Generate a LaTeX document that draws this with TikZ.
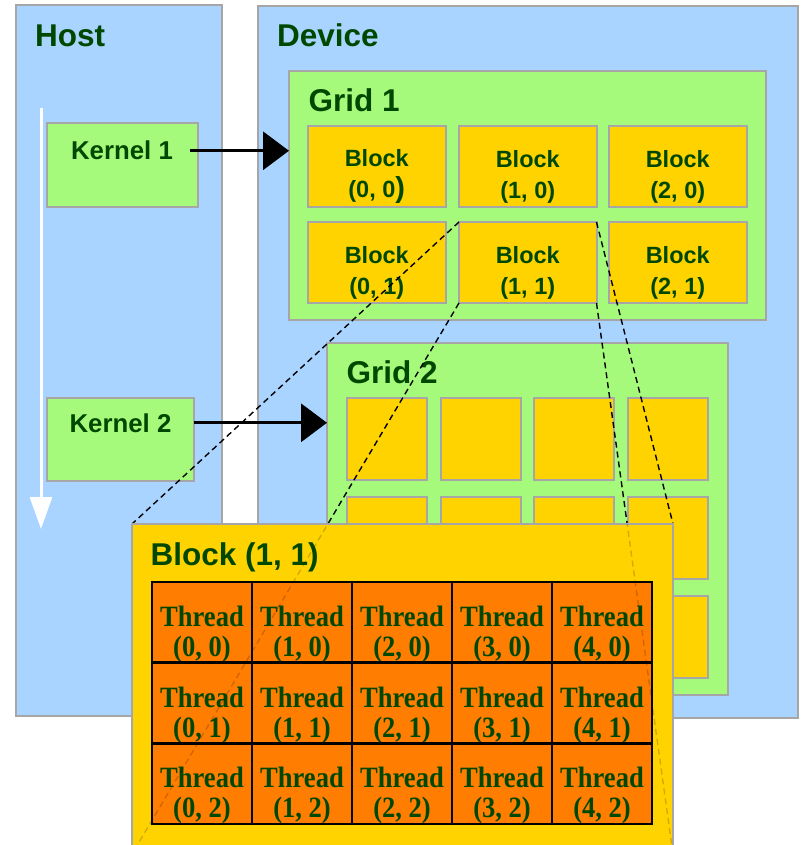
\documentclass[tikz,border=0pt]{standalone}
\usepackage{fontspec}
\setmainfont{Liberation Sans}
\newfontfamily\threadfont{Liberation Serif}[FakeStretch=0.9]
\usetikzlibrary{arrows.meta}

\definecolor{hostblue}{HTML}{A8D4FF}
\definecolor{gridgreen}{HTML}{A6FA7B}
\definecolor{blockyellow}{HTML}{FFD300}
\definecolor{threadorange}{HTML}{FF7D00}
\definecolor{labelgreen}{HTML}{004800}
\definecolor{edgegray}{HTML}{A6A6A6}

\begin{document}
\begin{tikzpicture}[x=1pt,y=-1pt,
    panel/.style={draw=edgegray,line width=2pt,fill=#1,inner sep=0pt,outer sep=0pt,anchor=north west},
    cell/.style={draw=black,line width=2.5pt,fill=threadorange,inner sep=0pt,outer sep=0pt,
      anchor=north west,minimum width=100pt,minimum height=80.7pt},
    heading/.style={font=\bfseries\fontsize{31.5}{36}\selectfont,text=labelgreen,inner sep=0pt,anchor=base west},
    kernlbl/.style={font=\bfseries\fontsize{25.8}{30}\selectfont,text=labelgreen,inner sep=0pt,anchor=base},
    blocklbl/.style={font=\bfseries\fontsize{23.5}{31}\selectfont,text=labelgreen,align=center,inner sep=0pt},
    threadlbl/.style={font=\threadfont\bfseries\fontsize{29.5}{30}\selectfont,text=labelgreen,align=center,inner sep=0pt},
    kernelarrow/.style={line width=3.3pt,-{Triangle[length=26pt,width=38pt]}},
    zoomline/.style={dash pattern=on 6pt off 4pt,line width=1.4pt}]
  \useasboundingbox (0,0) rectangle (802,845);
  \clip (0,0) rectangle (802,845);

  % Host side
  \node[panel=hostblue,minimum width=206pt,minimum height=711pt] (host) at (16,5) {};
  \node[heading] (hosttxt) at (35,46.5) {Host};
  \coordinate (flowtop) at (41,108);
  \coordinate (flowend) at (41,529);
  \draw[white,line width=3pt,-{Triangle[length=32pt,width=22pt]}] (flowtop) -- (flowend);
  \node[panel=gridgreen,minimum width=151pt,minimum height=84pt] (kern1) at (47,123) {};
  \node[kernlbl] (kern1txt) at (122,160) {Kernel 1};
  \node[panel=gridgreen,minimum width=147pt,minimum height=83pt] (kern2) at (47,398) {};
  \node[kernlbl] (kern2txt) at (120.5,432) {Kernel 2};

  % Device side
  \node[panel=hostblue,minimum width=540pt,minimum height=712pt] (device) at (258,6) {};
  \node[heading] (devicetxt) at (277,46.5) {Device};

  % Grid 1 with its six blocks
  \node[panel=gridgreen,minimum width=477pt,minimum height=249pt] (grid1) at (289,71) {};
  \node[heading] (grid1txt) at (308.5,111.7) {Grid 1};
  \foreach \i/\x in {0/308,1/459,2/609}
    \foreach \j/\y in {0/126,1/222}{
      \node[panel=blockyellow,minimum width=137.5pt,minimum height=81pt] (blk-\i-\j) at (\x,\y) {};
      \node[blocklbl] (blk-\i-\j-txt) at ([yshift=-10pt]blk-\i-\j.center)
        {Block\\(\i, \j\ifnum\i\j=0 {\fontsize{29}{29}\selectfont)}\else)\fi};
    }

  % Grid 2, blocks without labels
  \node[panel=gridgreen,minimum width=401pt,minimum height=352pt] (grid2) at (327,343) {};
  \node[heading] (grid2txt) at (346.5,383.3) {Grid 2};
  \foreach \x [count=\i] in {347,441,534,628}
    \foreach \y [count=\j] in {398,497,596}
      \node[panel=blockyellow,minimum width=80pt,minimum height=82pt] (g2blk-\i-\j) at (\x,\y) {};

  % Kernel launches
  \draw[kernelarrow] ([xshift=17pt]kern1txt.east) -- (kern1txt.east -| grid1.west);
  \draw[kernelarrow] (kern2txt.east -| kern2.east) -- (kern2txt.east -| grid2.west);

  % Block (1,1) blown up
  \node[panel=blockyellow,minimum width=541pt,minimum height=330pt] (bigblk) at (132,524) {};
  \draw[zoomline] (blk-1-1.north west) -- (bigblk.north west);
  \draw[zoomline] (blk-1-1.north east) -- (bigblk.north east);
  \draw[zoomline] (blk-1-1.south west) -- (bigblk.south west);
  \draw[zoomline] (blk-1-1.south east) -- (bigblk.south east);
  \fill[blockyellow] (bigblk.north west) rectangle (bigblk.south east);
  \draw[edgegray,line width=2pt] (bigblk.north west) rectangle (bigblk.south east);
  \node[heading] (bigblktxt) at (150.5,565) {Block (1, 1)};
  \foreach \i in {0,...,4}
    \foreach \j in {0,1,2}{
      \node[cell] (thr-\i-\j) at (152+100*\i,582+80.7*\j) {};
      \node[threadlbl] (thr-\i-\j-txt) at ([yshift=-12pt]thr-\i-\j.center) {Thread\\(\i, \j)};
    }
  % lines seen faintly through the big block
  \begin{scope}
    \clip (bigblk.north west) rectangle (bigblk.south east);
    \draw[zoomline,draw opacity=0.18] (blk-1-1.south west) -- (bigblk.south west);
    \draw[zoomline,draw opacity=0.18] (blk-1-1.south east) -- (bigblk.south east);
  \end{scope}
\end{tikzpicture}
\end{document}
